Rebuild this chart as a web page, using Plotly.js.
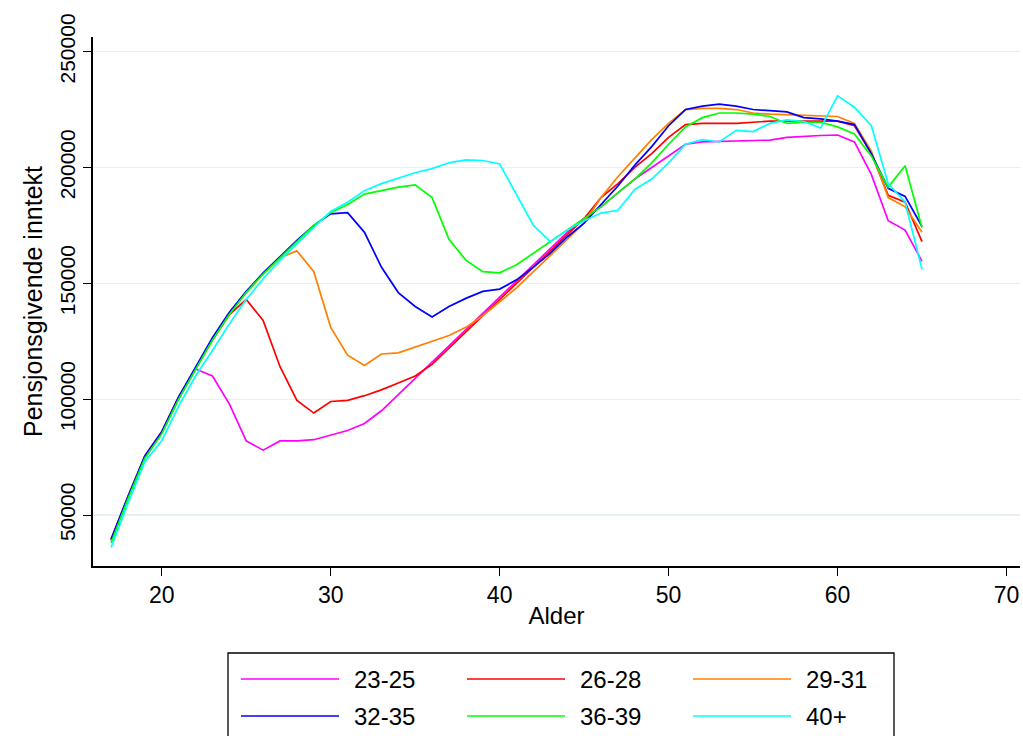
<!DOCTYPE html>
<html>
<head>
<meta charset="utf-8">
<script src="https://cdn.plot.ly/plotly-3.0.1.min.js"></script>
<style>html,body{margin:0;padding:0;background:#fff;}#chart{width:1023px;height:736px;}</style>
</head>
<body>
<div id="chart"></div>
<script>
var ages = [17,18,19,20,21,22,23,24,25,26,27,28,29,30,31,32,33,34,35,36,37,38,39,40,41,42,43,44,45,46,47,48,49,50,51,52,53,54,55,56,57,58,59,60,61,62,63,64,65];

var names = ["23-25","26-28","29-31","32-35","36-39","40+"];
var colors = ["#ff00ff","#ff0000","#ff8000","#0000ff","#00ff00","#00ffff"];

var s2325 = [39000,57500,75000,85500,100000,113000,110000,98000,82000,78000,82000,82000,82500,84500,86500,89500,95000,102000,109000,116000,123000,130000,137000,144000,151000,158000,165000,172000,178000,183000,189000,195000,200000,205000,210000,211000,211200,211500,211500,211800,213000,213500,213800,214000,211000,197000,177000,173000,159500];
var s2628 = [39500,58000,75500,86000,101000,113500,125500,136500,143000,134000,114000,99500,94000,99000,99500,101500,104000,107000,110000,115000,122000,129000,136000,143000,150000,157000,164000,171000,178000,187000,193000,200000,206000,213000,218500,219000,219000,219000,219500,220000,220000,220000,220000,220000,218000,206000,188000,185000,168000];
var s2931 = [39000,57500,75000,85500,100500,113500,126000,137000,146000,154000,161000,164000,155000,131000,119000,114500,119500,120000,122500,125000,127500,131000,136000,142000,148000,155000,162000,169000,176000,187000,196000,204000,212000,219000,225000,225500,225500,225000,223500,223000,222700,222500,222300,222000,219000,207000,187000,183000,172000];
var s3235 = [39500,58000,75500,86000,101000,114000,126500,137500,146500,154500,161500,168500,175000,180000,180500,172000,157000,146000,140000,135500,140000,143500,146500,147500,151500,157000,163000,170000,176000,184000,192000,201000,209000,218000,225000,226500,227300,226500,225000,224500,224000,221500,221000,220000,218500,206000,191000,187500,174500];
var s3639 = [38000,57000,74500,85000,100000,113000,125500,136500,146000,154000,161000,168000,175000,180500,184000,188500,190000,191500,192500,187000,169000,160000,155000,154500,158000,163000,168000,173000,178000,183000,189000,195000,202000,210000,217500,221500,223500,223500,223000,222000,219000,219500,219500,217500,214500,205000,191500,200700,174000];
var s40p = [36000,55000,73000,82000,97000,110000,121000,132500,143000,152000,160000,167000,174000,181000,185000,190000,193000,195500,197700,199500,202000,203300,203000,201500,188000,175000,168000,173000,177000,180300,181500,190500,195000,202000,210000,212000,211000,216000,215500,219000,220500,219800,217000,230900,226000,218000,193000,185000,156000];

var series = [s2325,s2628,s2931,s3235,s3639,s40p];

var FONT = "Liberation Sans, Arial, sans-serif";

var traces = series.map(function(vals,i){
  return {x: ages, y: vals, type:"scatter", mode:"lines", name: names[i],
          line:{color: colors[i], width:1.7}, showlegend:false};
});

var shapes = [];
var annotations = [];
var plotL = 93, plotR = 1020, plotT = 37, plotB = 566, W = 1023, H = 736;
function px2paperX(p){ return (p - plotL)/(plotR - plotL); }
function px2paperY(p){ return (plotB - p)/(plotB - plotT); }
var colLineX = [241,467,693], lineLen = 98, rowY = [679,716];
for (var i=0;i<names.length;i++){
  var c = i%3, r = Math.floor(i/3);
  shapes.push({type:"line", xref:"paper", yref:"paper",
    x0:px2paperX(colLineX[c]), x1:px2paperX(colLineX[c]+lineLen),
    y0:px2paperY(rowY[r]), y1:px2paperY(rowY[r]),
    line:{color:colors[i], width:1.7}});
  annotations.push({xref:"paper", yref:"paper", x:px2paperX(colLineX[c]+lineLen+13),
    y:px2paperY(rowY[r]), xanchor:"left", yanchor:"middle", showarrow:false,
    text:names[i], font:{family:FONT, size:24, color:"#000"}});
}
shapes.push({type:"rect", xref:"paper", yref:"paper",
  x0:px2paperX(228), x1:px2paperX(894), y0:px2paperY(745), y1:px2paperY(653),
  line:{color:"#000", width:1.3}, fillcolor:"rgba(0,0,0,0)"});

var layout = {
  width: W, height: H,
  margin:{l:plotL, r:W-plotR, t:plotT, b:H-plotB},
  paper_bgcolor:"#fff", plot_bgcolor:"#fff",
  font:{family:FONT, size:20, color:"#000"},
  xaxis:{range:[15.93,70.8], tickvals:[20,30,40,50,60,70], ticks:"outside", ticklen:8,
         tickcolor:"#000", showline:true, linecolor:"#000", linewidth:1.6, showgrid:false,
         zeroline:false, tickfont:{family:FONT, size:23},
         title:{text:"Alder", font:{family:FONT, size:24}, standoff:0}},
  yaxis:{range:[28000,256300], tickvals:[50000,100000,150000,200000,250000], ticks:"outside",
         ticklen:8, tickcolor:"#000", showline:true, linecolor:"#000", linewidth:1.6,
         showgrid:true, gridcolor:"#e8eff2", gridwidth:1.2, zeroline:false, tickangle:-90,
         tickfont:{family:FONT, size:21}, tickformat:"d",
         title:{text:"Pensjonsgivende inntekt", font:{family:FONT, size:25}, standoff:6}},
  shapes: shapes,
  annotations: annotations,
  showlegend:false
};

Plotly.newPlot("chart", traces, layout, {staticPlot:true, displayModeBar:false});
</script>
</body>
</html>
